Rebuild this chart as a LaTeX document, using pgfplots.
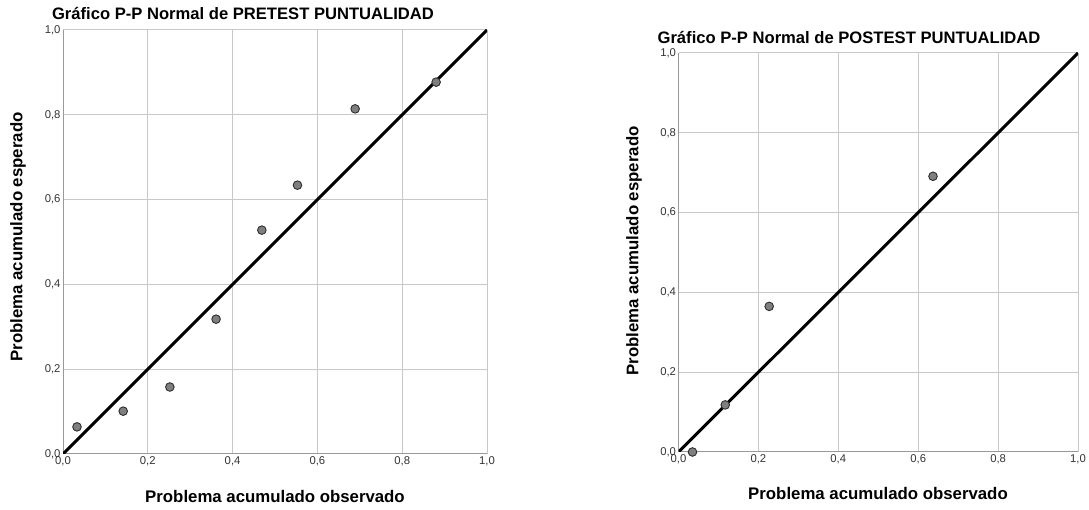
\documentclass[border=0pt]{standalone}
\usepackage{pgfplots}
\pgfplotsset{compat=1.18}
\usepackage{fontspec}
\setmainfont{Liberation Sans}

\definecolor{gridgray}{HTML}{C8C8C8}
\definecolor{axisgray}{HTML}{999999}
\definecolor{ptfill}{HTML}{7F7F7F}
\definecolor{ptedge}{HTML}{2E2E2E}
\definecolor{ticktext}{HTML}{333333}

\pgfplotsset{
  ppstyle/.style={
    scale only axis,
    xmin=0, xmax=1, ymin=0, ymax=1,
    xtick={0,0.2,...,1.0}, ytick={0,0.2,...,1.0},
    grid=major,
    major grid style={gridgray, line width=1pt},
    axis x line*=bottom, axis y line*=left,
    axis line style={axisgray, line width=1pt, -},
    major tick length=0pt,
    tick label style={font=\fontsize{11.3}{13}\selectfont, text=ticktext},
    /pgf/number format/assume math mode=true,
    /pgf/number format/use comma,
    /pgf/number format/fixed,
    /pgf/number format/fixed zerofill,
    /pgf/number format/precision=1,
    xticklabel style={yshift=1pt},
    yticklabel style={xshift=1pt},
    clip=true,
  },
  refline/.style={black, line width=3pt, no marks},
  pts/.style={only marks, mark=*, mark size=4.3pt,
    mark options={fill=ptfill, draw=ptedge, line width=0.9pt}},
}

\begin{document}
\begin{tikzpicture}
\useasboundingbox (0pt,0pt) rectangle (1089pt,510pt);

% Pretest panel
\begin{axis}[ppstyle, at={(63pt,56pt)}, anchor=south west, width=424pt, height=424pt]
  \addplot[refline] coordinates {(0,0) (1,1)};
  \addplot[pts] coordinates {
    (0.033,0.064) (0.142,0.101) (0.252,0.158) (0.361,0.318)
    (0.469,0.528) (0.553,0.634) (0.689,0.814) (0.880,0.877)
  };
\end{axis}

% Postest panel
\begin{axis}[ppstyle, at={(678.5pt,58pt)}, anchor=south west, width=399.5pt, height=399pt]
  \addplot[refline] coordinates {(0,0) (1,1)};
  \addplot[pts] coordinates {
    (0.035,0.0) (0.117,0.118) (0.227,0.365) (0.637,0.691)
  };
\end{axis}

% Titles and axis labels
\node[font=\bfseries\fontsize{16.6}{18}\selectfont] at (243pt,496pt) {Gráfico P-P Normal de PRETEST PUNTUALIDAD};
\node[font=\bfseries\fontsize{16.6}{18}\selectfont] at (849pt,472pt) {Gráfico P-P Normal de POSTEST PUNTUALIDAD};
\node[font=\bfseries\fontsize{16.8}{18}\selectfont] at (275pt,14pt) {Problema acumulado observado};
\node[font=\bfseries\fontsize{16.8}{18}\selectfont] at (878pt,17pt) {Problema acumulado observado};
\node[font=\bfseries\fontsize{16.8}{18}\selectfont, rotate=90] at (18pt,273pt) {Problema acumulado esperado};
\node[font=\bfseries\fontsize{16.8}{18}\selectfont, rotate=90] at (634pt,259pt) {Problema acumulado esperado};
\end{tikzpicture}
\end{document}
